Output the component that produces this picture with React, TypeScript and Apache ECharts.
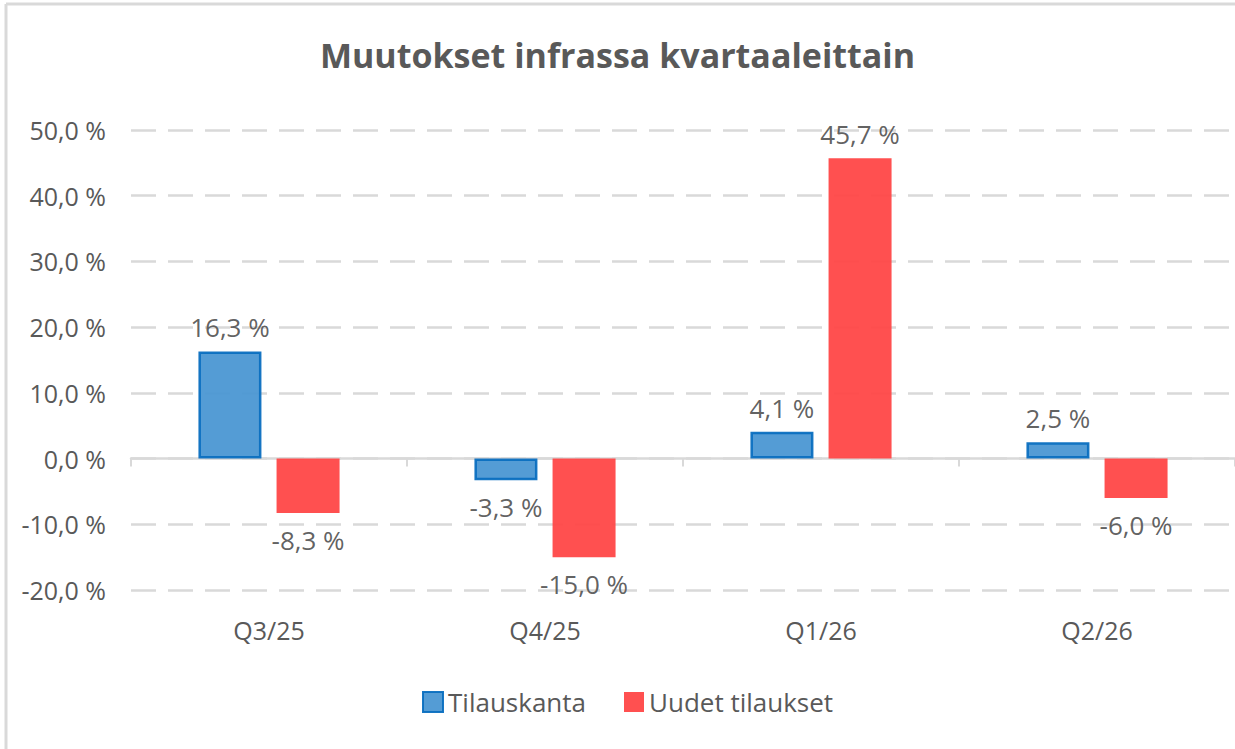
import React, { useEffect, useRef } from "react";
import * as echarts from "echarts";

const categories = ["Q3/25", "Q4/25", "Q1/26", "Q2/26"];
const tilauskanta = [16.3, -3.3, 4.1, 2.5];
const uudetTilaukset = [-8.3, -15.0, 45.7, -6.0];
const seriesNames = ["Tilauskanta", "Uudet tilaukset"];
const titleText = "Muutokset infrassa kvartaaleittain";

const FONT = "'Open Sans', sans-serif";
const TXT = "#595959";

const fmt = (v: number) => v.toFixed(1).replace(".", ",") + " %";

const withLabels = (vals: number[]) =>
  vals.map((v) => ({
    value: v,
    label: {
      position: v >= 0 ? "top" : "bottom",
      distance: v >= 0 ? 11 : 14,
    },
  }));

export default function App() {
  const ref = useRef<HTMLDivElement>(null);
  useEffect(() => {
    if (!ref.current) return;
    const chart = echarts.init(ref.current, undefined, { renderer: "svg" });
    const labelStyle = {
      show: true,
      color: TXT,
      fontSize: 26,
      fontFamily: FONT,
      formatter: (p: any) => fmt(p.value),
    };
    chart.setOption({
      animation: false,
      backgroundColor: "#ffffff",
      title: {
        text: titleText,
        left: "center",
        top: 33,
        textStyle: { color: TXT, fontSize: 34, fontWeight: "bold", fontFamily: FONT },
      },
      graphic: [
        { type: "line", shape: { x1: 6, y1: 4, x2: 1235, y2: 4 }, style: { stroke: "#d9d9d9", lineWidth: 3 } },
        { type: "line", shape: { x1: 6, y1: 4, x2: 6, y2: 749 }, style: { stroke: "#d9d9d9", lineWidth: 3 } },
      ],
      legend: {
        data: seriesNames,
        top: 684,
        left: 417,
        itemWidth: 20,
        itemHeight: 20,
        itemGap: 38,
        icon: "rect",
        textStyle: { color: TXT, fontSize: 26, fontFamily: FONT },
      },
      grid: { left: 131, top: 130, bottom: 159, width: 1111 },
      xAxis: [
        {
          type: "category",
          data: categories,
          axisLine: { show: true, onZero: true, lineStyle: { color: "#d9d9d9", width: 2.5 } },
          axisTick: { show: true, length: 8, lineStyle: { color: "#d9d9d9", width: 2 } },
          axisLabel: { show: false },
        },
        {
          type: "category",
          data: categories,
          position: "bottom",
          axisLine: { show: false, onZero: false },
          axisTick: { show: false },
          axisLabel: { show: true, color: TXT, fontSize: 25, fontFamily: FONT, margin: 27 },
        },
      ],
      yAxis: {
        type: "value",
        min: -20,
        max: 50,
        interval: 10,
        axisLine: { show: false },
        axisTick: { show: false },
        axisLabel: { color: TXT, fontSize: 25, fontFamily: FONT, margin: 25, formatter: (v: number) => fmt(v) },
        splitLine: { show: true, lineStyle: { color: "#d9d9d9", width: 2.5, type: [25, 12] } },
      },
      series: [
        {
          name: seriesNames[0],
          type: "bar",
          xAxisIndex: 0,
          data: withLabels(tilauskanta),
          barWidth: 63,
          barGap: "24%",
          itemStyle: { color: "#4b97d3", borderColor: "#0b6fc0", borderWidth: 2.5, opacity: 0.95 },
          label: labelStyle,
        },
        {
          name: seriesNames[1],
          type: "bar",
          xAxisIndex: 0,
          data: withLabels(uudetTilaukset),
          barWidth: 63,
          itemStyle: { color: "#ff4747", opacity: 0.95 },
          label: labelStyle,
        },
      ],
    });
    return () => chart.dispose();
  }, []);
  return (
    <div
      ref={ref}
      style={{ position: "fixed", left: 0, top: 0, width: 1235, height: 749 }}
    />
  );
}
